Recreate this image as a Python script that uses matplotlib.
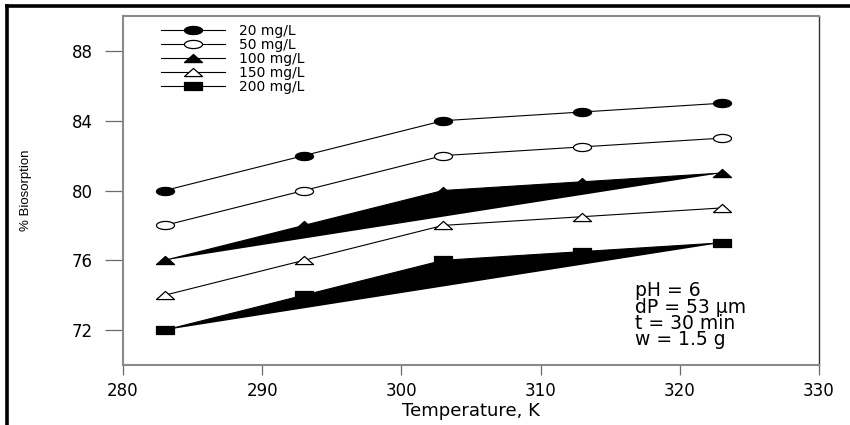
import matplotlib
matplotlib.use("Agg")
import matplotlib.pyplot as plt
import numpy as np
from matplotlib.lines import Line2D
from matplotlib.path import Path

plt.rcParams['font.family'] = ['DejaVu Sans']

temperature = [283, 293, 303, 313, 323]
c20 = [80, 82, 84, 84.5, 85]
c50 = [78, 80, 82, 82.5, 83]
c100 = [76, 78, 80, 80.5, 81]
c150 = [74, 76, 78, 78.5, 79]
c200 = [72, 74, 76, 76.5, 77]
labels = ["20 mg/L", "50 mg/L", "100 mg/L", "150 mg/L", "200 mg/L"]
xticks = [280, 290, 300, 310, 320, 330]
yticks = [72, 76, 80, 84, 88]

# wide, flat marker shapes
SQ = 0.45
theta = np.linspace(0, 2 * np.pi, 60)
ellipse = Path(np.column_stack([np.cos(theta), SQ * np.sin(theta)]), closed=True)
triangle = Path([(-1, -SQ), (1, -SQ), (0, SQ), (-1, -SQ)], closed=True)
rect = Path([(-1, -SQ), (1, -SQ), (1, SQ), (-1, SQ), (-1, -SQ)], closed=True)

W, H = 850, 425
fig = plt.figure(figsize=(8.5, 4.25), dpi=100)
ax = fig.add_axes([123 / W, 1 - 365 / H, (819 - 123) / W, (365 - 16) / H])

lw = 0.8
ms = 13
common = dict(color='black', lw=lw, ms=ms, mec='black', mew=0.9)
h1, = ax.plot(temperature, c20, marker=ellipse, mfc='black', **common)
h2, = ax.plot(temperature, c50, marker=ellipse, mfc='white', **common)
ax.fill(temperature, c100, color='black', lw=0)
h3, = ax.plot(temperature, c100, marker=triangle, mfc='black', **common)
h4, = ax.plot(temperature, c150, marker=triangle, mfc='white', **common)
ax.fill(temperature, c200, color='black', lw=0)
h5, = ax.plot(temperature, c200, marker=rect, mfc='black', **common)

ax.set_xlim(280, 330)
ax.set_ylim(70, 90)
ax.set_xticks(xticks)
ax.set_yticks(yticks)
ax.tick_params(direction='out', width=0.9, color='#6a6a6a', labelsize=12)
ax.tick_params(axis='x', length=7, pad=5)
ax.tick_params(axis='y', length=13, pad=9)
ax.tick_params(top=False, right=False)
for s in ['left', 'top', 'bottom']:
    ax.spines[s].set_color('#8a8a8a')
    ax.spines[s].set_linewidth(1.5)
ax.spines['right'].set_color('#333333')
ax.spines['right'].set_linewidth(1.0)

ax.set_xlabel("Temperature, K", fontsize=13, labelpad=2)
ax.set_ylabel("% Biosorption", fontsize=9.5, family='Liberation Sans', labelpad=28)

leg = ax.legend([h1, h2, h3, h4, h5], labels, loc='upper left', frameon=False,
                fontsize=10, handlelength=4.6, labelspacing=0.0, handletextpad=1.0,
                borderaxespad=0.0, borderpad=0.0, bbox_to_anchor=(0.055, 0.978))

ax.text(0.736, 0.24, "pH = 6\ndP = 53 \u00b5m\nt = 30 min\nw = 1.5 g",
        transform=ax.transAxes, fontsize=13.5, va='top', ha='left', linespacing=0.82)

# heavy frame lines along the top and left of the figure
fig.add_artist(Line2D([6.5 / W, 6.5 / W], [0, 1 - 6 / H], color='black', lw=2.6,
                      transform=fig.transFigure, solid_capstyle='projecting'))
fig.add_artist(Line2D([6.5 / W, 1], [1 - 6 / H, 1 - 6 / H], color='black', lw=2.6,
                      transform=fig.transFigure, solid_capstyle='projecting'))

fig.savefig("out.png", dpi=100)
